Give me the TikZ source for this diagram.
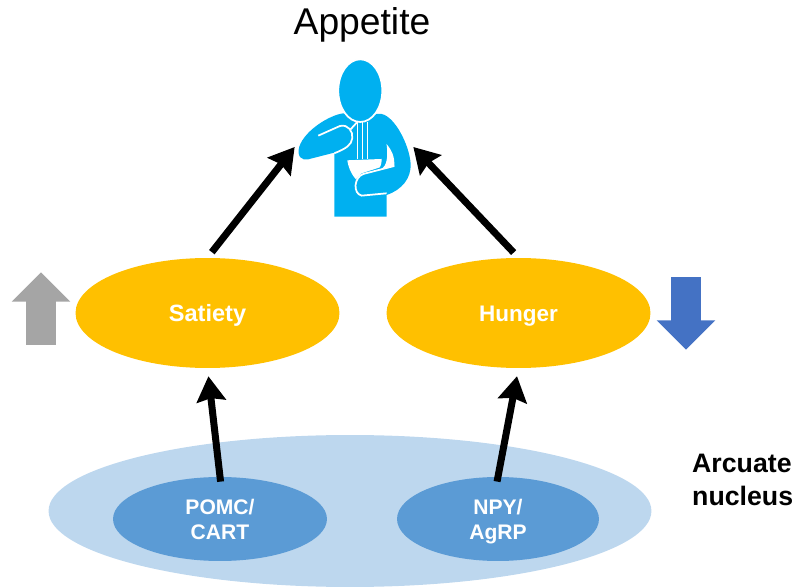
\documentclass[tikz,border=0pt]{standalone}
\usepackage{fontspec}
\setmainfont{Liberation Sans}
\usepackage{tikz}
\usetikzlibrary{shapes.geometric,shapes.arrows,arrows.meta}
\definecolor{gold}{HTML}{FFC000}
\definecolor{nucleusblue}{HTML}{BDD7EE}
\definecolor{cellblue}{HTML}{5B9BD5}
\definecolor{eaterblue}{HTML}{00B0F0}
\definecolor{downblue}{HTML}{4472C4}
\definecolor{upgray}{HTML}{A5A5A5}
\newcommand{\celltext}[2]{\rule{0pt}{1em}#1\\\rule[-0.25em]{0pt}{0.25em}#2}
\begin{document}
\begin{tikzpicture}[x=0.02cm,y=-0.02cm,
            region/.style = {ellipse,
                        inner sep=0pt,
                        fill=gold,
                        text=white,
                        text height=1.15em,
                        text depth=0.2em,
                        font=\fontsize{13.4}{16}\selectfont\bfseries,
                        minimum width=5.28cm,
                        minimum height=2.2cm},
            cell/.style = {ellipse,
                        inner sep=0pt,
                        fill=cellblue,
                        text=white,
                        align=center,
                        font=\fontsize{12}{14.2}\selectfont\bfseries,
                        minimum height=1.68cm},
            signal/.style = {draw=black,
                        line width=0.14cm,
                        -{Stealth[length=0.5cm,width=0.58cm,inset=0.06cm]}},
            change/.style = {single arrow,
                        inner sep=0.29cm,
                        minimum height=1.45cm,
                        minimum width=1.17cm,
                        single arrow head extend=0.29cm,
                        single arrow tip angle=90},
            cutline/.style = {white,line width=0.035cm}]
            \useasboundingbox (0,0) rectangle (796,588);
            % Arcuate nucleus
            \node[ellipse,fill=nucleusblue,minimum width=12.06cm,minimum height=3.04cm,inner sep=0pt] (nucleus) at (350,511) {};
            \node[align=left,font=\fontsize{15.2}{18.3}\selectfont\bfseries,anchor=west] (arcuate) at (686,480) {Arcuate\\nucleus};
            % Cells
            \node[cell,minimum width=4.28cm] (pomc) at (220,519) {\celltext{POMC/}{CART}};
            \node[cell,minimum width=4.04cm] (npy) at (498,519) {\celltext{NPY/}{AgRP}};
            % Satiety and hunger
            \node[region] (satiety) at (207.5,313) {Satiety};
            \node[region,font=\fontsize{12.8}{16}\selectfont\bfseries] (hunger) at (518.5,313) {Hunger};
            % Up and down arrows
            \node[change,fill=upgray,shape border rotate=90] (up) at (41,316) {};
            \node[change,fill=downblue,shape border rotate=270] (down) at (686,306) {};
            % Title
            \node[font=\fontsize{21.2}{24}\selectfont] (appetite) at (362,25) {Appetite};
            % Eater, in crop coordinates
            \node[minimum width=2.36cm,minimum height=2.8cm,inner sep=0pt] (eater) at (354,147) {};
            \begin{scope}[shift={(5.6cm,-1cm)},x=0.00667cm,y=-0.00667cm]
                \fill[eaterblue] (163,500) -- (320,500) -- (320,435) .. controls (365,420) and (395,385) .. (392,340)
                    .. controls (388,285) and (345,200) .. (305,192) -- (190,190)
                    .. controls (150,195) and (75,240) .. (58,290)
                    .. controls (50,320) and (65,332) .. (85,328) -- (163,308) -- cycle;
                % Head
                \fill[eaterblue,draw=white,line width=0.035cm] (241,122) ellipse (66 and 94);
                % Noodles
                \draw[cutline] (233,215) -- (233,328) (248,215) -- (248,328) (263,215) -- (263,328);
                % Arm
                \draw[cutline] (115,257) -- (180,228) .. controls (205,222) and (220,245) .. (217,265)
                    .. controls (214,285) and (200,295) .. (163,310);
                \draw[cutline] (212,238) -- (233,215);
                % Bowl
                \fill[white] (202,331) -- (305,327) .. controls (305,340) and (303,346) .. (300,352) -- (245,370) -- (228,388)
                    .. controls (212,370) and (205,350) .. (202,331) -- cycle;
                \fill[white] (320,282) .. controls (335,300) and (345,320) .. (343,350) -- (305,358)
                    .. controls (320,345) and (325,325) .. (320,282) -- cycle;
                % Forearm
                \fill[eaterblue] (343,348) -- (250,372) .. controls (222,382) and (218,430) .. (245,437) -- (320,430) -- cycle;
                \draw[cutline] (343,348) -- (250,372) .. controls (222,382) and (218,430) .. (245,437) -- (320,430);
            \end{scope}
            % Arrows
            \draw[signal,shorten <=0.14cm] (satiety.north) -- (eater.west);
            \draw[signal,shorten <=0.14cm] (hunger.north) -- (eater.east);
            \draw[signal,shorten <=-0.1cm,shorten >=0.16cm] (pomc.north) -- (satiety.south);
            \draw[signal,shorten <=-0.1cm,shorten >=0.16cm] (npy.north) -- (hunger.south);
        \end{tikzpicture}
\end{document}
